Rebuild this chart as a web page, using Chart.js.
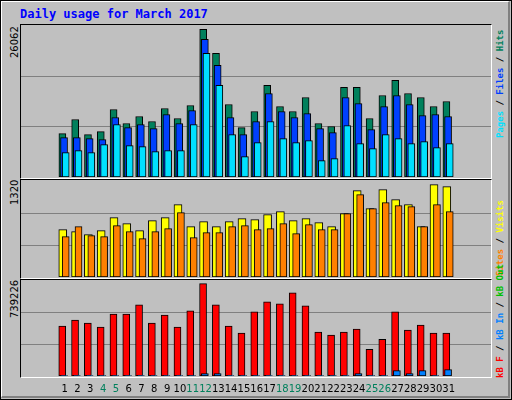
<!DOCTYPE html>
<html><head><meta charset="utf-8">
<script src="https://cdn.jsdelivr.net/npm/chart.js@4"></script>
<style>
html,body{margin:0;padding:0;background:#C0C0C0;}
#wrap{position:relative;width:512px;height:400px;background:#C0C0C0;overflow:hidden;}
#outer{position:absolute;left:0;top:0;width:510px;height:398px;border:1px solid #000;}
#inner{position:absolute;left:1px;top:1px;width:506px;height:394px;border-top:1px solid #fff;border-left:1px solid #fff;border-right:2px solid #808080;border-bottom:2px solid #808080;}
.frame{position:absolute;border-top:1px solid #000;border-left:1px solid #000;border-right:1px solid #fff;border-bottom:1px solid #fff;}
canvas{position:absolute;}
.rl{position:absolute;transform-origin:0 0;transform:rotate(-90deg);white-space:nowrap;}
.ylab{font:10px "DejaVu Sans";color:#000;}
.rlab{font:bold 9px "DejaVu Sans Mono";}
#title{position:absolute;left:20px;top:7px;font:bold 12px "DejaVu Sans Mono";color:#0000FF;}
</style></head><body>
<div id="wrap">
<div id="outer"></div><div id="inner"></div>
<div id="title">Daily usage for March 2017</div>
<div class="frame" style="left:20px;top:24px;width:470px;height:153px"></div>
<div class="frame" style="left:20px;top:179px;width:470px;height:98px"></div>
<div class="frame" style="left:20px;top:279px;width:470px;height:97px"></div>
<canvas id="c1" width="470" height="152" style="left:21px;top:25px"></canvas>
<canvas id="c2" width="470" height="96" style="left:21px;top:181px"></canvas>
<canvas id="c3" width="470" height="120" style="left:21px;top:280px"></canvas>
<div class="rl ylab" style="left:9px;top:58px">26062</div>
<div class="rl ylab" style="left:9px;top:205px">1320</div>
<div class="rl ylab" style="left:9px;top:318px">739226</div>
<div class="rl rlab" style="left:495px;top:138px"><span style="color:#00E0FF">Pages</span> / <span style="color:#0040FF">Files</span> / <span style="color:#00805C">Hits</span></div>
<div class="rl rlab" style="left:495px;top:276px"><span style="color:#FF8000">Sites</span> / <span style="color:#FFFF00">Visits</span></div>
<div class="rl rlab" style="left:495px;top:378px"><span style="color:#FF0000">kB F</span> / <span style="color:#0080FF">kB In</span> / <span style="color:#00C000">kB Out</span></div>
</div>
<script>
const days=[1,2,3,4,5,6,7,8,9,10,11,12,13,14,15,16,17,18,19,20,21,22,23,24,25,26,27,28,29,30,31];
const weekend=[4,5,11,12,18,19,25,26];
const hits=[7665,10141,7488,8019,11910,9434,10672,9787,12087,10318,12617,26062,21815,12794,8726,11556,16155,12441,11556,14032,9434,8903,15801,15801,10318,14386,17039,14740,14032,12441,13325];
const files=[6957,6957,6780,6604,10495,8726,9257,8549,11026,9434,11733,24292,19693,10495,7488,9787,14740,11556,10495,11202,8549,7842,14032,12971,8372,12441,14386,12794,10849,11026,10672];
const pages=[4304,4658,4304,5719,9257,5542,5365,4481,4658,4658,9257,21815,16155,7488,3597,6073,9787,6780,6073,6427,2889,3243,9080,5896,5012,7488,6780,5896,6250,5188,5896];
const visits=[677,648,605,662,848,762,662,805,848,1034,720,791,720,791,834,820,891,934,805,834,777,720,905,1234,977,1248,1105,1034,720,1320,1291];
const sites=[577,720,591,577,734,648,548,648,691,920,562,634,634,720,734,677,691,762,619,748,677,677,905,1177,977,1063,1020,1005,720,1034,934];
const kbF=[399300,447900,423600,391200,496400,496400,569300,423600,488300,391200,520700,739226,569300,399300,342600,512600,593600,577400,666400,561200,350700,326500,350700,375000,213100,294100,512600,366900,407400,342600,342600];
const kbIn=[3000,3000,3000,3000,3000,3000,3000,3000,3000,3000,3000,19000,19000,3000,3000,3000,3000,3000,3000,3000,3000,3000,3000,19000,3000,3000,43000,19000,43000,3000,51000];

function pts(arr,off){return arr.map((v,i)=>({x:days[i]+off,y:v}));}
function ds(arr,off,color,order,w){return {data:pts(arr,off),backgroundColor:color,borderColor:'#000',borderWidth:1,barThickness:w||7,grouped:false,order:order,borderSkipped:false};}
const grid={id:'grid',beforeDatasetsDraw(c){const a=c.chartArea,ctx=c.ctx;ctx.save();ctx.strokeStyle='#808080';ctx.lineWidth=1;
 [1/3,2/3].forEach(f=>{const y=Math.round(a.bottom-(a.bottom-a.top)*f)+0.5;ctx.beginPath();ctx.moveTo(a.left,y);ctx.lineTo(a.right,y);ctx.stroke();});ctx.restore();}};
const xlabels={id:'xl',afterDraw(c){const ctx=c.ctx,x=c.scales.x;ctx.save();ctx.font='10px "DejaVu Sans"';ctx.textAlign='center';ctx.textBaseline='middle';
 days.forEach(d=>{ctx.fillStyle=weekend.includes(d)?'#00805C':'#000';ctx.fillText(String(d),x.getPixelForValue(d-0.08),109);});ctx.restore();}};
function make(id,datasets,ymax,padB,extra){
 return new Chart(document.getElementById(id),{type:'bar',data:{datasets},
  options:{responsive:false,animation:false,events:[],layout:{padding:{left:0,right:0,top:0,bottom:padB}},
   plugins:{legend:{display:false},tooltip:{enabled:false}},
   scales:{x:{type:'linear',min:0.13,max:31.6,display:false},y:{min:0,max:ymax,display:false}}},
  plugins:[grid].concat(extra||[])});
}
make('c1',[ds(pages,0,'#00E0FF',1),ds(files,-0.13,'#0040FF',2),ds(hits,-0.26,'#00805C',3)],26820,0);
make('c2',[ds(sites,0,'#FF8000',1),ds(visits,-0.23,'#FFFF00',2,8)],1371,0);
make('c3',[ds(kbIn,-0.13,'#0080FF',1),ds(kbF,-0.27,'#FF0000',2)],768300,24,[xlabels]);
</script></body></html>
